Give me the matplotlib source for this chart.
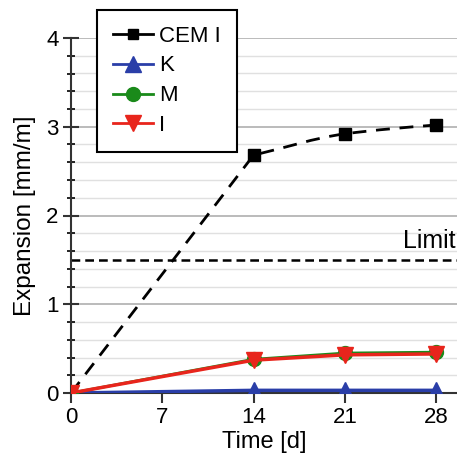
import matplotlib
matplotlib.use("Agg")
import matplotlib.pyplot as plt
from matplotlib.path import Path
from matplotlib.patches import PathPatch
import numpy as np

plt.rcParams['font.family'] = ['Liberation Sans', 'DejaVu Sans']

days = [0, 14, 21, 28]
cem = [0.0, 2.68, 2.92, 3.02]
k_vals = [0.0, 0.03, 0.03, 0.03]
m_vals = [0.0, 0.38, 0.45, 0.46]
i_vals = [0.0, 0.37, 0.43, 0.44]
limit = 1.5
xticks = [0, 7, 14, 21, 28]
yticks = [0, 1, 2, 3, 4]

fig = plt.figure(figsize=(4.57, 4.58), dpi=100)
ax = fig.add_axes([71/457, 1-393/458, 1-71/457, (393-38)/458])
ax.set_xlim(0, 29.6)
ax.set_ylim(0, 4)

# grid
for yy in np.arange(0.2, 4.01, 0.2):
    major = abs(yy - round(yy)) < 1e-6
    ax.axhline(yy, color='#b5b5b5' if major else '#e0e0e0', lw=1.3 if major else 1.0, zorder=0)

# CEM I curve: straight first segment, smooth afterwards (cubic Bezier)
x = np.array(days, float)
y = np.array(cem, float)
h = np.diff(x)
d = np.diff(y) / h
t_start = [d[0], d[1], 0.5 * (d[1] + d[2]) * 0.8]
t_end = [d[0], t_start[2], d[2] * 0.8]
verts = [(x[0], y[0])]
codes = [Path.MOVETO]
for j in range(len(x) - 1):
    verts += [(x[j] + h[j] / 3, y[j] + t_start[j] * h[j] / 3),
              (x[j + 1] - h[j] / 3, y[j + 1] - t_end[j] * h[j] / 3),
              (x[j + 1], y[j + 1])]
    codes += [Path.CURVE4] * 3
patch = PathPatch(Path(verts, codes), fill=False, edgecolor='black', lw=2,
                  linestyle=(0, (5, 3.5)), zorder=3)
ax.add_patch(patch)
ax.plot(days, cem, ls='none', marker='s', color='black', ms=9, zorder=4)

ax.plot(days, k_vals, color='#2a3ea8', lw=2.5, marker='^', ms=11, zorder=5)
ax.plot(days, m_vals, color='#1a8a1a', lw=2, marker='o', ms=10, zorder=5)
ax.plot(days, i_vals, color='#e8251c', lw=2.5, marker='v', ms=11, zorder=6)

ax.axhline(limit, color='black', lw=1.8, ls=(0, (3.5, 2)), zorder=2)
ax.text(29.45, limit + 0.08, 'Limit', ha='right', va='bottom', fontsize=18)

# legend handles
h1, = ax.plot([], [], color='black', lw=2, marker='s', ms=7)
h2, = ax.plot([], [], color='#2a3ea8', lw=2, marker='^', ms=11)
h3, = ax.plot([], [], color='#1a8a1a', lw=2, marker='o', ms=10)
h4, = ax.plot([], [], color='#e8251c', lw=2, marker='v', ms=11)
leg = ax.legend([h1, h2, h3, h4], ['CEM I', 'K', 'M', 'I'],
                loc='upper left', bbox_to_anchor=(97/457, 1-10/458),
                bbox_transform=fig.transFigure, fontsize=16, frameon=True, fancybox=False,
                edgecolor='black', framealpha=1, handlelength=1.8, handletextpad=0.3,
                borderpad=0.7, labelspacing=0.4, borderaxespad=0)
leg.get_frame().set_linewidth(1.5)
leg.set_zorder(10)

for s in ['top', 'right']:
    ax.spines[s].set_visible(False)
ax.spines['left'].set_linewidth(1.5)
ax.spines['bottom'].set_linewidth(1.5)
ax.spines['left'].set_color('#333333')
ax.spines['bottom'].set_color('#333333')
ax.set_xticks(xticks)
ax.set_yticks(yticks)
ax.set_yticks(np.arange(0, 4.01, 0.2), minor=True)
ax.tick_params(axis='both', labelsize=16, width=1.5, length=7, color='#333333', pad=3)
ax.tick_params(axis='y', which='major', direction='inout', length=12)
ax.tick_params(axis='y', which='minor', direction='inout', length=6, width=1.2)
ax.set_xlabel('Time [d]', fontsize=17, labelpad=2)
ax.set_ylabel('Expansion [mm/m]', fontsize=17.5, labelpad=7)

fig.savefig('out.png', dpi=100)
